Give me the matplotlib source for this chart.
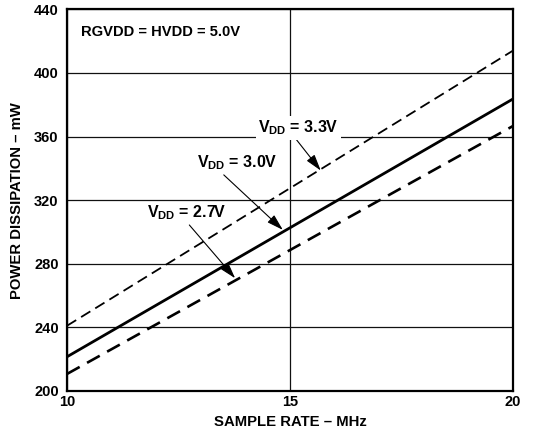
import numpy as np
import matplotlib.pyplot as plt

plt.rcParams['font.family'] = ['Liberation Sans', 'DejaVu Sans']
plt.rcParams['mathtext.fontset'] = 'custom'
plt.rcParams['mathtext.rm'] = 'Liberation Sans:bold'
plt.rcParams['mathtext.bf'] = 'Liberation Sans:bold'
plt.rcParams['mathtext.it'] = 'Liberation Sans:bold'

# sample rate (MHz) and power dissipation (mW) for each VDD
rate = [10, 15, 20]
p_33 = [241, 327.5, 414]
p_30 = [221.5, 302.6, 383.6]
p_27 = [210.7, 288.6, 366.6]

x_ticks = [10, 15, 20]
y_ticks = [200, 240, 280, 320, 360, 400, 440]

fig = plt.figure(figsize=(5.6, 4.42), dpi=100)
ax = fig.add_axes([0.1196, 0.1154, 0.7964, 0.8636])

ax.plot(rate, p_33, color='k', lw=1.3, dashes=(6, 3.2))
ax.plot(rate, p_30, color='k', lw=2.0)
ax.plot(rate, p_27, color='k', lw=1.9, dashes=(5.5, 3.2))

ax.set_xlim(10, 20)
ax.set_ylim(200, 440)
ax.set_xticks(x_ticks)
ax.set_yticks(y_ticks)
ax.tick_params(axis='x', length=0, pad=3, labelsize=10.5)
ax.tick_params(axis='y', length=0, pad=6, labelsize=10.5)
for lab in ax.get_xticklabels() + ax.get_yticklabels():
    lab.set_fontweight('bold')
ax.grid(True, color='#111111', lw=0.9)
ax.set_axisbelow(True)
for s in ax.spines.values():
    s.set_linewidth(1.6)

ax.set_xlabel('SAMPLE RATE – MHz', fontsize=10.7, fontweight='bold', labelpad=4)
ax.set_ylabel('POWER DISSIPATION – mW', fontsize=10.7, fontweight='bold', labelpad=7)

ax.text(10.32, 425.5, 'RGVDD = HVDD = 5.0V', fontsize=10.6, fontweight='bold',
        va='center', ha='left')

arrow = dict(arrowstyle='-|>,head_length=1.0,head_width=0.3', color='k', lw=0.8,
             mutation_scale=10, shrinkA=0, shrinkB=0)
ax.annotate(r'$\mathbf{V_{DD}}$ = 3.3V', xy=(15.69, 338.6), xytext=(15.19, 365.5),
            fontsize=11.5, fontweight='bold', ha='center', va='center',
            bbox=dict(boxstyle='square,pad=0.15', fc='white', ec='none'),
            arrowprops=dict(arrow, relpos=(0.45, 0.0)))
ax.annotate(r'$\mathbf{V_{DD}}$ = 3.0V', xy=(14.84, 301.3), xytext=(13.81, 343.5),
            fontsize=11.5, fontweight='bold', ha='center', va='center',
            arrowprops=dict(arrow, relpos=(0.3, 0.0)))
ax.annotate(r'$\mathbf{V_{DD}}$ = 2.7V', xy=(13.77, 270.9), xytext=(12.69, 312),
            fontsize=11.5, fontweight='bold', ha='center', va='center',
            arrowprops=dict(arrow, relpos=(0.5, 0.0)))

fig.savefig('out.png', dpi=100)
